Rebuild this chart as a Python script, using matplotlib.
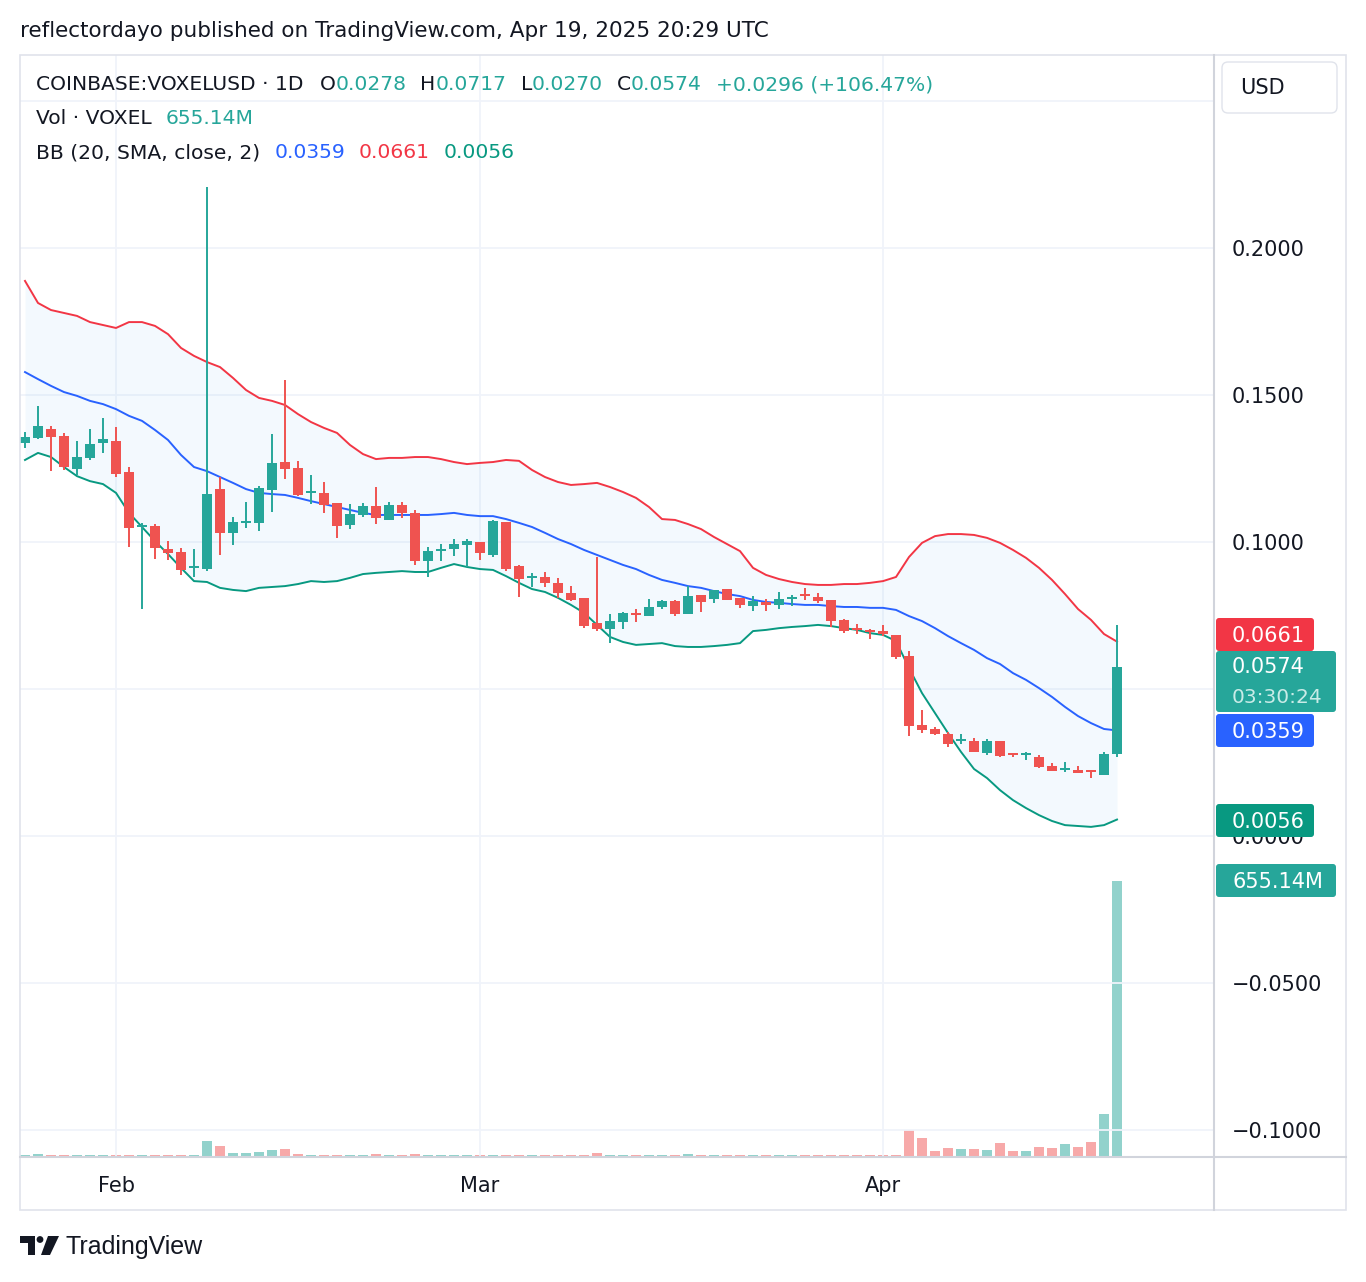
import datetime as dt
import numpy as np
import matplotlib
matplotlib.use("Agg")
import matplotlib.pyplot as plt
import matplotlib.dates as mdates
from matplotlib.patches import FancyBboxPatch, Rectangle, Circle, Polygon
from matplotlib.lines import Line2D
from matplotlib.transforms import IdentityTransform
from matplotlib.ticker import FuncFormatter

plt.rcParams['font.family'] = ['DejaVu Sans']

# COINBASE:VOXELUSD daily candles, Jan 25 -> Apr 19 2025
first_day = dt.datetime(2025, 1, 25)

opens = [
    0.1338, 0.1355, 0.1384, 0.1361, 0.1249, 0.1285, 0.1338, 0.1344, 0.1238, 0.1050,
    0.1054, 0.0976, 0.0966, 0.0911, 0.0909, 0.1180, 0.1032, 0.1066, 0.1066, 0.1178,
    0.1272, 0.1252, 0.1166, 0.1167, 0.1133, 0.1059, 0.1093, 0.1122, 0.1076, 0.1126,
    0.1098, 0.0936, 0.0970, 0.0976, 0.0991, 0.1000, 0.0956, 0.1068, 0.0918, 0.0878,
    0.0881, 0.0861, 0.0827, 0.0810, 0.0723, 0.0705, 0.0729, 0.0757, 0.0749, 0.0780,
    0.0799, 0.0756, 0.0819, 0.0805, 0.0839, 0.0810, 0.0783, 0.0797, 0.0785, 0.0806,
    0.0818, 0.0814, 0.0803, 0.0735, 0.0704, 0.0697, 0.0697, 0.0684, 0.0612, 0.0378,
    0.0364, 0.0347, 0.0322, 0.0323, 0.0283, 0.0323, 0.0278, 0.0274, 0.0269, 0.0238,
    0.0223, 0.0224, 0.0220, 0.0209, 0.0278]
highs = [
    0.1373, 0.1463, 0.1395, 0.1370, 0.1344, 0.1384, 0.1422, 0.1391, 0.1254, 0.1064,
    0.1061, 0.1003, 0.0980, 0.0976, 0.2207, 0.1221, 0.1085, 0.1136, 0.1190, 0.1368,
    0.1551, 0.1276, 0.1228, 0.1204, 0.1133, 0.1128, 0.1134, 0.1187, 0.1136, 0.1136,
    0.1109, 0.0983, 0.0993, 0.1010, 0.1009, 0.1000, 0.1075, 0.1068, 0.0922, 0.0895,
    0.0898, 0.0877, 0.0850, 0.0810, 0.0950, 0.0755, 0.0763, 0.0773, 0.0806, 0.0803,
    0.0803, 0.0851, 0.0819, 0.0837, 0.0839, 0.0810, 0.0815, 0.0805, 0.0829, 0.0820,
    0.0843, 0.0826, 0.0803, 0.0738, 0.0721, 0.0703, 0.0718, 0.0684, 0.0629, 0.0429,
    0.0371, 0.0354, 0.0347, 0.0333, 0.0330, 0.0323, 0.0283, 0.0287, 0.0274, 0.0249,
    0.0253, 0.0239, 0.0220, 0.0286, 0.0717]
lows = [
    0.1321, 0.1350, 0.1243, 0.1245, 0.1228, 0.1279, 0.1304, 0.1222, 0.0984, 0.0773,
    0.0943, 0.0939, 0.0889, 0.0882, 0.0902, 0.0957, 0.0991, 0.1049, 0.1038, 0.1103,
    0.1213, 0.1156, 0.1129, 0.1100, 0.1015, 0.1044, 0.1084, 0.1061, 0.1076, 0.1083,
    0.0923, 0.0880, 0.0936, 0.0953, 0.0916, 0.0939, 0.0950, 0.0901, 0.0814, 0.0846,
    0.0848, 0.0811, 0.0800, 0.0709, 0.0698, 0.0655, 0.0705, 0.0729, 0.0749, 0.0773,
    0.0749, 0.0756, 0.0763, 0.0794, 0.0802, 0.0776, 0.0765, 0.0766, 0.0773, 0.0782,
    0.0803, 0.0794, 0.0712, 0.0689, 0.0686, 0.0671, 0.0681, 0.0603, 0.0341, 0.0351,
    0.0345, 0.0304, 0.0313, 0.0287, 0.0276, 0.0268, 0.0268, 0.0259, 0.0232, 0.0222,
    0.0219, 0.0215, 0.0198, 0.0208, 0.0270]
closes = [
    0.1356, 0.1395, 0.1358, 0.1256, 0.1289, 0.1333, 0.1350, 0.1231, 0.1049, 0.1053,
    0.0981, 0.0962, 0.0906, 0.0915, 0.1162, 0.1032, 0.1067, 0.1070, 0.1183, 0.1269,
    0.1249, 0.1160, 0.1170, 0.1127, 0.1055, 0.1095, 0.1122, 0.1083, 0.1126, 0.1099,
    0.0936, 0.0968, 0.0973, 0.0993, 0.1002, 0.0964, 0.1072, 0.0908, 0.0875, 0.0883,
    0.0860, 0.0827, 0.0804, 0.0715, 0.0704, 0.0731, 0.0757, 0.0753, 0.0780, 0.0798,
    0.0754, 0.0815, 0.0797, 0.0837, 0.0802, 0.0787, 0.0799, 0.0786, 0.0807, 0.0809,
    0.0815, 0.0800, 0.0732, 0.0696, 0.0700, 0.0693, 0.0687, 0.0610, 0.0375, 0.0362,
    0.0348, 0.0314, 0.0326, 0.0287, 0.0323, 0.0273, 0.0274, 0.0277, 0.0236, 0.0222,
    0.0226, 0.0215, 0.0217, 0.0278, 0.0574]

# volume in millions of VOXEL
volume_m = [
    5, 8, 5, 5, 5, 5, 5, 5, 5, 5,
    5, 5, 5, 5, 38, 27, 10, 10, 12, 17,
    19, 7, 5, 5, 5, 5, 5, 8, 5, 5,
    8, 5, 5, 5, 5, 5, 5, 5, 5, 5,
    5, 5, 5, 5, 10, 5, 5, 5, 5, 5,
    5, 7, 5, 5, 5, 5, 5, 5, 5, 5,
    5, 5, 5, 5, 5, 5, 5, 5, 65, 45,
    14, 22, 19, 19, 17, 33, 14, 14, 24, 22,
    31, 24, 36, 103, 655.14]

# Bollinger bands (20, SMA, close, 2) as shown on the chart
bb_upper = [
    0.1888, 0.1813, 0.1789, 0.1779, 0.1769, 0.1748, 0.1738, 0.1728, 0.1748, 0.1748,
    0.1735, 0.1707, 0.1660, 0.1633, 0.1612, 0.1595, 0.1558, 0.1517, 0.1490, 0.1480,
    0.1466, 0.1435, 0.1408, 0.1388, 0.1371, 0.1330, 0.1299, 0.1282, 0.1286, 0.1286,
    0.1289, 0.1289, 0.1282, 0.1272, 0.1265, 0.1269, 0.1272, 0.1279, 0.1276, 0.1245,
    0.1221, 0.1204, 0.1194, 0.1197, 0.1201, 0.1187, 0.1170, 0.1150, 0.1119, 0.1078,
    0.1075, 0.1061, 0.1044, 0.1017, 0.0993, 0.0969, 0.0912, 0.0888, 0.0874, 0.0864,
    0.0857, 0.0854, 0.0854, 0.0857, 0.0857, 0.0861, 0.0867, 0.0881, 0.0949, 0.0997,
    0.1020, 0.1027, 0.1027, 0.1024, 0.1014, 0.0997, 0.0973, 0.0946, 0.0912, 0.0871,
    0.0823, 0.0772, 0.0735, 0.0687, 0.0661]
bb_basis = [
    0.1578, 0.1554, 0.1531, 0.1510, 0.1497, 0.1480, 0.1469, 0.1452, 0.1429, 0.1412,
    0.1381, 0.1347, 0.1296, 0.1255, 0.1241, 0.1221, 0.1201, 0.1180, 0.1167, 0.1163,
    0.1160, 0.1150, 0.1139, 0.1129, 0.1119, 0.1109, 0.1099, 0.1092, 0.1092, 0.1092,
    0.1092, 0.1092, 0.1095, 0.1099, 0.1092, 0.1088, 0.1088, 0.1078, 0.1065, 0.1051,
    0.1031, 0.1010, 0.0993, 0.0973, 0.0956, 0.0939, 0.0922, 0.0908, 0.0888, 0.0871,
    0.0861, 0.0850, 0.0844, 0.0833, 0.0823, 0.0816, 0.0803, 0.0796, 0.0793, 0.0789,
    0.0786, 0.0786, 0.0782, 0.0779, 0.0779, 0.0776, 0.0776, 0.0769, 0.0748, 0.0731,
    0.0707, 0.0680, 0.0656, 0.0633, 0.0605, 0.0585, 0.0554, 0.0531, 0.0503, 0.0473,
    0.0439, 0.0408, 0.0384, 0.0364, 0.0359]
bb_lower = [
    0.1279, 0.1303, 0.1289, 0.1255, 0.1224, 0.1207, 0.1197, 0.1167, 0.1099, 0.1051,
    0.1003, 0.0959, 0.0912, 0.0867, 0.0864, 0.0844, 0.0837, 0.0833, 0.0844, 0.0847,
    0.0850, 0.0857, 0.0867, 0.0864, 0.0867, 0.0878, 0.0891, 0.0895, 0.0898, 0.0901,
    0.0898, 0.0898, 0.0912, 0.0925, 0.0915, 0.0908, 0.0905, 0.0884, 0.0861, 0.0840,
    0.0830, 0.0810, 0.0786, 0.0759, 0.0718, 0.0677, 0.0660, 0.0650, 0.0653, 0.0656,
    0.0646, 0.0643, 0.0643, 0.0646, 0.0650, 0.0656, 0.0697, 0.0701, 0.0707, 0.0711,
    0.0714, 0.0718, 0.0714, 0.0707, 0.0701, 0.0690, 0.0684, 0.0663, 0.0571, 0.0486,
    0.0418, 0.0350, 0.0286, 0.0228, 0.0197, 0.0156, 0.0122, 0.0095, 0.0071, 0.0051,
    0.0037, 0.0034, 0.0031, 0.0037, 0.0056]

month_ticks = [dt.datetime(2025, 2, 1), dt.datetime(2025, 3, 1), dt.datetime(2025, 4, 1)]
month_labels = ["Feb", "Mar", "Apr"]
price_ticks = [-0.10, -0.05, 0.0, 0.05, 0.10, 0.15, 0.20, 0.25]
hidden_ticks = [0.05, 0.25]   # covered by the last-price and currency boxes

UP, DOWN = '#26a69a', '#ef5350'
UP_VOL, DOWN_VOL = '#92d2cc', '#f7a9a9'
TXT = '#131722'
GRID = '#f0f3fa'
BORDER = '#e0e3eb'

W, H = 1366, 1282
fig = plt.figure(figsize=(W / 100, H / 100), dpi=100)
fig.patch.set_facecolor('white')
PX = IdentityTransform()


def px_text(x, y, s, **kw):
    # text placed in image pixel coords (y measured from top)
    kw.setdefault('va', 'center')
    kw.setdefault('ha', 'left')
    return fig.text(x, H - y, s, transform=PX, **kw)


# chart area in pixels: left 20, right 1214, top 55, bottom 1157
L, R, T, B = 20, 1214, 55, 1157
rect = [L / W, 1 - B / H, (R - L) / W, (B - T) / H]

days = [first_day + dt.timedelta(days=k) for k in range(len(opens))]
x = mdates.date2num(days)
o, h, l, c = (np.array(a) for a in (opens, highs, lows, closes))
up = c >= o
x_lo = x[0] - 0.385
x_hi = x[0] + 91.46

# volume pane (behind the price pane)
vax = fig.add_axes(rect, zorder=0)
vax.bar(x, np.array(volume_m) * 1e6, width=0.8,
        color=np.where(up, UP_VOL, DOWN_VOL), linewidth=0)
vax.set_ylim(0, 655.14e6 * (B - T) / 276)
vax.set_xlim(x_lo, x_hi)
vax.axis('off')

ax = fig.add_axes(rect, zorder=1)
ax.patch.set_visible(False)
ax.set_xlim(x_lo, x_hi)
ax.set_ylim((836 - B) / 2940, (836 - T) / 2940)

ax.fill_between(x, bb_lower, bb_upper, color='#2196f3', alpha=0.05, linewidth=0, zorder=1)
ax.plot(x, bb_upper, color='#f23645', lw=1.4, zorder=2)
ax.plot(x, bb_basis, color='#2962ff', lw=1.4, zorder=2)
ax.plot(x, bb_lower, color='#089981', lw=1.4, zorder=2)

cols = np.where(up, UP, DOWN)
ax.vlines(x, l, h, colors=cols, lw=1.4, zorder=3)
body_h = np.maximum(np.abs(c - o), 0.0007)
ax.bar(x, body_h, bottom=np.minimum(o, c), width=0.72, color=cols, linewidth=0, zorder=4)


def price_fmt(v, pos):
    if any(abs(v - t) < 1e-9 for t in hidden_ticks):
        return ''
    return f"{v:.4f}".replace('-', '\u2212')


for s in ax.spines.values():
    s.set_visible(False)
ax.set_xticks(mdates.date2num(month_ticks))
ax.set_xticklabels(month_labels)
ax.set_yticks(price_ticks)
ax.yaxis.set_major_formatter(FuncFormatter(price_fmt))
ax.yaxis.tick_right()
ax.tick_params(axis='y', length=0, pad=13, labelsize=15, labelcolor=TXT)
ax.tick_params(axis='x', length=0, pad=14, labelsize=15, labelcolor=TXT)
ax.grid(True, color=GRID, lw=1.3, zorder=0)
ax.set_axisbelow(True)

# frame lines
fig.add_artist(Rectangle((20, H - 1210), 1326, 1155, transform=PX, fill=False,
                         edgecolor=BORDER, lw=1.2, zorder=2))
fig.add_artist(Line2D([1214, 1214], [H - 55, H - 1210], transform=PX, color='#d1d4dc', lw=1.5, zorder=2))
fig.add_artist(Line2D([20, 1346], [H - 1157, H - 1157], transform=PX, color='#d1d4dc', lw=1.5, zorder=2))


def price_box(y0, y1, x1, color, lines):
    fig.add_artist(FancyBboxPatch((1216, H - y1), x1 - 1216, y1 - y0, transform=PX,
                                  boxstyle='round,pad=0,rounding_size=3',
                                  facecolor=color, edgecolor='none', zorder=5))
    step = (y1 - y0) / len(lines)
    for k, (s, tc) in enumerate(lines):
        t = px_text(1232, y0 + step * (k + 0.5) + 1, s, color=tc, fontsize=15 if k == 0 else 14.5)
        t.set_zorder(6)


price_box(618, 651, 1314, '#f23645', [("0.0661", 'white')])
price_box(651, 712, 1336, UP, [("0.0574", 'white'), ("03:30:24", '#c9ebe7')])
price_box(714, 747, 1314, '#2962ff', [("0.0359", 'white')])
price_box(804, 837, 1314, '#089981', [("0.0056", 'white')])
price_box(864, 897, 1336, UP, [("655.14M", 'white')])

# currency box
fig.add_artist(FancyBboxPatch((1222, H - 113), 115, 51, transform=PX,
                              boxstyle='round,pad=0,rounding_size=6',
                              facecolor='white', edgecolor=BORDER, lw=1.0, zorder=5))
t = px_text(1240, 88, "USD", color=TXT, fontsize=15)
t.set_zorder(6)

# header
px_text(20, 31, "reflectordayo published on TradingView.com, Apr 19, 2025 20:29 UTC",
        color=TXT, fontsize=15.5)

renderer = fig.canvas.get_renderer()


def legend_row(x0, y, parts, size=14.6):
    xp = x0
    for s, col, gap in parts:
        t = px_text(xp, y, s, color=col, fontsize=size)
        t.set_zorder(6)
        xp += t.get_window_extent(renderer=renderer).width + gap


legend_row(36, 85, [("COINBASE:VOXELUSD \u00b7 1D", TXT, 16),
                    ("O", TXT, 0), ("0.0278", UP, 14),
                    ("H", TXT, 0), ("0.0717", UP, 14),
                    ("L", TXT, 0), ("0.0270", UP, 14),
                    ("C", TXT, 0), ("0.0574", UP, 14),
                    ("+0.0296 (+106.47%)", UP, 0)])
legend_row(36, 119, [("Vol \u00b7 VOXEL", TXT, 14), ("655.14M", UP, 0)])
legend_row(36, 153, [("BB (20, SMA, close, 2)", TXT, 14), ("0.0359", '#2962ff', 14),
                     ("0.0661", '#f23645', 14), ("0.0056", '#089981', 0)])

# TradingView logo
fig.add_artist(Rectangle((20, H - 1243), 15, 7, transform=PX, color=TXT, lw=0))
fig.add_artist(Rectangle((28, H - 1255), 7, 19, transform=PX, color=TXT, lw=0))
fig.add_artist(Circle((40, H - 1239.5), 3.4, transform=PX, color=TXT, lw=0))
fig.add_artist(Polygon([(48, H - 1236), (59, H - 1236), (50, H - 1255), (41, H - 1255)],
                       closed=True, transform=PX, color=TXT, lw=0))
px_text(66, 1247, "TradingView", color=TXT, fontsize=18, family='Liberation Sans')

fig.savefig("out.png", dpi=100, facecolor='white')
